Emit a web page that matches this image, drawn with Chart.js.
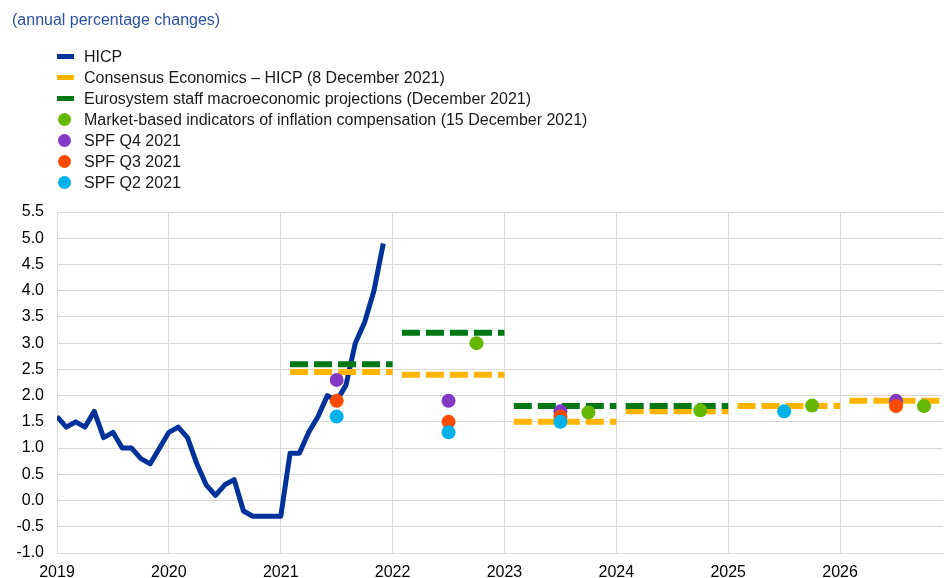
<!DOCTYPE html>
<html>
<head>
<meta charset="utf-8">
<script src="https://cdn.jsdelivr.net/npm/chart.js@4.4.1/dist/chart.umd.min.js"></script>
<style>
body { margin: 0; background: #fff; font-family: "Liberation Sans", Arial, sans-serif; }
#wrap { position: relative; width: 944px; height: 578px; }
#chart { position: absolute; left: 0; top: 0; }
#title { position: absolute; left: 12px; top: 10px; font-size: 16px; line-height: 20px; color: #2a52a6; }
#legend { position: absolute; left: 57px; top: 46px; font-size: 16px; color: #1a1a1a; }
.item { position: relative; height: 21px; line-height: 21px; padding-left: 27px; white-space: nowrap; }
.mk { position: absolute; left: 0; }
.mk.line { width: 17px; height: 5px; top: 8px; }
.mk.dot { width: 13px; height: 13px; border-radius: 50%; top: 4px; left: 1px; }
</style>
</head>
<body>
<div id="wrap">
  <canvas id="chart" width="944" height="578"></canvas>
  <div id="title">(annual percentage changes)</div>
  <div id="legend"></div>
</div>
<script>
// HICP, monthly (plotted at end of month)
const hicpMonths = [
    '2018-12',
    '2019-01', '2019-02', '2019-03', '2019-04', '2019-05', '2019-06',
    '2019-07', '2019-08', '2019-09', '2019-10', '2019-11', '2019-12',
    '2020-01', '2020-02', '2020-03', '2020-04', '2020-05', '2020-06',
    '2020-07', '2020-08', '2020-09', '2020-10', '2020-11', '2020-12',
    '2021-01', '2021-02', '2021-03', '2021-04', '2021-05', '2021-06',
    '2021-07', '2021-08', '2021-09', '2021-10', '2021-11'
]
const hicp = [
    1.6,
    1.4, 1.5, 1.4, 1.7, 1.2, 1.3, 1.0, 1.0, 0.8, 0.7, 1.0, 1.3,
    1.4, 1.2, 0.7, 0.3, 0.1, 0.3, 0.4, -0.2, -0.3, -0.3, -0.3, -0.3,
    0.9, 0.9, 1.3, 1.6, 2.0, 1.9, 2.2, 3.0, 3.4, 4.0, 4.9
]

// annual forecasts (drawn as a flat line over the year)
const consensusYears = [2021, 2022, 2023, 2024, 2025, 2026]
const consensus = [2.45, 2.4, 1.5, 1.7, 1.8, 1.9]

const eurosystemYears = [2021, 2022, 2023, 2024]
const eurosystem = [2.6, 3.2, 1.8, 1.8]

// point forecasts
const marketYears = [2022, 2023, 2024, 2025, 2026]
const market = [3.0, 1.68, 1.72, 1.81, 1.8]

const spfQ4Years = [2021, 2022, 2023, 2026]
const spfQ4 = [2.3, 1.9, 1.7, 1.9]

const spfQ3Years = [2021, 2022, 2023, 2026]
const spfQ3 = [1.9, 1.5, 1.6, 1.8]

const spfQ2Years = [2021, 2022, 2023, 2025]
const spfQ2 = [1.6, 1.3, 1.5, 1.7]

const yTicks = { min: -1, max: 5.5, step: 0.5 }
const xRange = { min: 2019, max: 2026.92 }

const monthPos = m => {
    const [y, mo] = m.split('-').map(Number)
    return y + mo / 12
}

// one flat segment per year, broken with a null between years
const yearSegments = (years, values) => {
    const pts = []
    years.forEach((yr, i) => {
        pts.push({ x: yr + 1 / 12, y: values[i] })
        pts.push({ x: yr + 1, y: values[i] })
        pts.push({ x: yr + 1.04, y: null })
    })
    return pts
}

const atYear = (years, values, offset) => years.map((yr, i) => ({ x: yr + offset, y: values[i] }))

const dotStyle = color => ({
    showLine: false,
    pointRadius: 7,
    pointHoverRadius: 7,
    pointBorderWidth: 0,
    pointBackgroundColor: color,
    backgroundColor: color,
    borderColor: color
})

const dashStyle = color => ({
    borderColor: color,
    backgroundColor: color,
    borderWidth: 6,
    borderDash: [18, 6],
    borderCapStyle: 'butt',
    pointRadius: 0,
    spanGaps: false
})

const datasets = [
    {
        label: 'HICP',
        data: hicpMonths.map((m, i) => ({ x: monthPos(m), y: hicp[i] })),
        borderColor: '#003299',
        backgroundColor: '#003299',
        borderWidth: 5,
        borderJoinStyle: 'round',
        pointRadius: 0,
        order: 7,
        legendType: 'line'
    },
    {
        label: 'Consensus Economics \u2013 HICP (8 December 2021)',
        data: yearSegments(consensusYears, consensus),
        ...dashStyle('#ffb400'),
        order: 6,
        legendType: 'line'
    },
    {
        label: 'Eurosystem staff macroeconomic projections (December 2021)',
        data: yearSegments(eurosystemYears, eurosystem),
        ...dashStyle('#007816'),
        order: 5,
        legendType: 'line'
    },
    {
        label: 'Market-based indicators of inflation compensation (15 December 2021)',
        data: atYear(marketYears, market, 0.75),
        ...dotStyle('#65b800'),
        order: 4,
        legendType: 'dot'
    },
    {
        label: 'SPF Q4 2021',
        data: atYear(spfQ4Years, spfQ4, 0.5),
        ...dotStyle('#8139c6'),
        order: 3,
        legendType: 'dot'
    },
    {
        label: 'SPF Q3 2021',
        data: atYear(spfQ3Years, spfQ3, 0.5),
        ...dotStyle('#ff4b00'),
        order: 2,
        legendType: 'dot'
    },
    {
        label: 'SPF Q2 2021',
        data: atYear(spfQ2Years, spfQ2, 0.5),
        ...dotStyle('#00b1ea'),
        order: 1,
        legendType: 'dot'
    }
]

Chart.defaults.font.family = "'Liberation Sans', Arial, sans-serif"
Chart.defaults.font.size = 16
Chart.defaults.color = '#000'

const gridColor = '#d9d9d9'

const chart = new Chart(document.getElementById('chart'), {
    type: 'line',
    data: { datasets: datasets },
    options: {
        responsive: false,
        animation: false,
        devicePixelRatio: 1,
        events: [],
        layout: {
            autoPadding: false,
            padding: { top: 212, right: 1, bottom: 0, left: 0 }
        },
        plugins: {
            legend: { display: false },
            title: { display: false },
            tooltip: { enabled: false }
        },
        elements: {
            line: { tension: 0 }
        },
        scales: {
            x: {
                type: 'linear',
                min: xRange.min,
                max: xRange.max,
                afterFit: s => { s.height = 25 },
                grid: { color: gridColor, lineWidth: 1, drawTicks: false },
                border: { color: gridColor, width: 1 },
                ticks: {
                    stepSize: 1,
                    includeBounds: false,
                    padding: 10,
                    maxRotation: 0,
                    autoSkip: false,
                    callback: v => String(v)
                }
            },
            y: {
                min: yTicks.min,
                max: yTicks.max,
                afterFit: s => { s.width = 57 },
                grid: { color: gridColor, lineWidth: 1, drawTicks: false },
                border: { color: gridColor, width: 1 },
                ticks: {
                    stepSize: yTicks.step,
                    padding: 13,
                    callback: v => v.toFixed(1)
                }
            }
        }
    }
})

// legend in the original order, one item per row
const legendEl = document.getElementById('legend')
chart.data.datasets.forEach(ds => {
    const row = document.createElement('div')
    row.className = 'item'
    const mk = document.createElement('span')
    mk.className = 'mk ' + ds.legendType
    mk.style.background = ds.borderColor
    row.appendChild(mk)
    row.appendChild(document.createTextNode(ds.label))
    legendEl.appendChild(row)
})
</script>
</body>
</html>
